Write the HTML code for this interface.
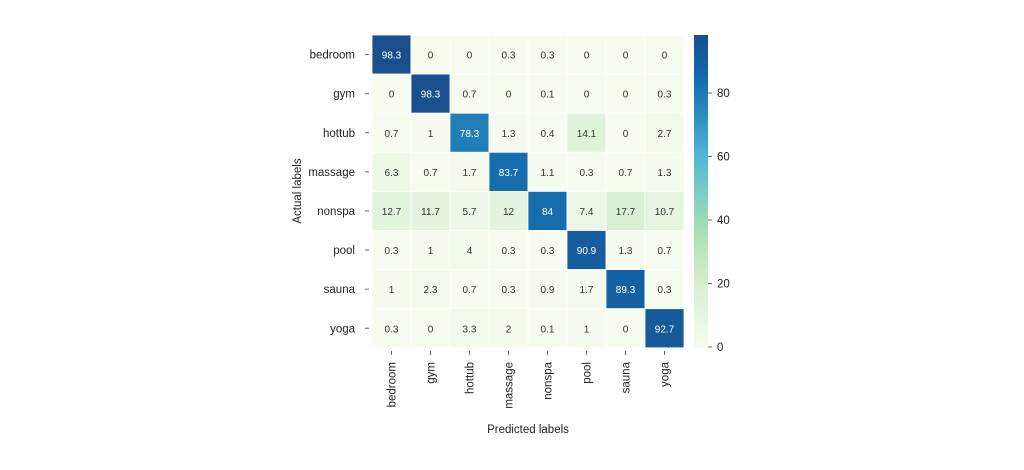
<!DOCTYPE html>
<html><head><meta charset="utf-8"><style>
body{margin:0;background:#fff;width:1024px;height:465px;overflow:hidden;font-family:"Liberation Sans",sans-serif}
</style></head><body>
<svg id="s" width="1024" height="465" xmlns="http://www.w3.org/2000/svg" font-family="Liberation Sans, sans-serif"></svg>
<script>
const labels=["bedroom","gym","hottub","massage","nonspa","pool","sauna","yoga"];
const D=[[98.3,0,0,0.3,0.3,0,0,0],[0,98.3,0.7,0,0.1,0,0,0.3],[0.7,1,78.3,1.3,0.4,14.1,0,2.7],[6.3,0.7,1.7,83.7,1.1,0.3,0.7,1.3],[12.7,11.7,5.7,12,84,7.4,17.7,10.7],[0.3,1,4,0.3,0.3,90.9,1.3,0.7],[1,2.3,0.7,0.3,0.9,1.7,89.3,0.3],[0.3,0,3.3,2,0.1,1,0,92.7]];
const stops=["#f7fcf0","#e4f4de","#ccebc5","#a8ddb5","#7bccc4","#4eb3d3","#2b8cbe","#1167ab","#1a4f8e"];
function hex(h){return [1,3,5].map(i=>parseInt(h.substr(i,2),16))}
function col(v){let t=Math.max(0,Math.min(1,v/98.3))*8;let i=Math.min(7,Math.floor(t)),f=t-i;let a=hex(stops[i]),b=hex(stops[i+1]);return "rgb("+a.map((x,k)=>Math.round(x+(b[k]-x)*f)).join(",")+")"}
let x0=372,y0=35,cw=39,ch=39.1,s="";
for(let r=0;r<8;r++)for(let c=0;c<8;c++){let v=D[r][c];let x=x0+c*cw,y=y0+r*ch;
s+=`<rect x="${x}" y="${y}" width="${cw}" height="${ch}" fill="${col(v)}" stroke="#fff" stroke-width="0.8"/>`;
s+=`<text x="${x+cw/2}" y="${y+ch/2+4}" font-size="10" text-anchor="middle" fill="${v>50?'#fff':'#333'}">${v}</text>`;}
for(let i=0;i<8;i++){let y=y0+i*ch+ch/2;
s+=`<line x1="365" x2="369" y1="${y}" y2="${y}" stroke="#666"/><text x="355" y="${y+4}" font-size="11.5" text-anchor="end" fill="#222">${labels[i]}</text>`;
let x=x0+i*cw+cw/2;
s+=`<line x1="${x}" x2="${x}" y1="351" y2="355" stroke="#666"/><text transform="translate(${x+4},362) rotate(-90)" font-size="11.5" text-anchor="end" fill="#222">${labels[i]}</text>`;}
s+=`<text x="528" y="433" font-size="11.5" text-anchor="middle" fill="#222">Predicted labels</text>`;
s+=`<text transform="translate(301,191) rotate(-90)" font-size="11.5" text-anchor="middle" fill="#222">Actual labels</text>`;
s+=`<defs><linearGradient id="g" x1="0" y1="1" x2="0" y2="0">`+stops.map((c,i)=>`<stop offset="${i/8}" stop-color="${c}"/>`).join("")+`</linearGradient></defs>`;
s+=`<rect x="694" y="35" width="14" height="313" fill="url(#g)"/>`;
for(let v of [0,20,40,60,80]){let y=347-v*3.175;s+=`<line x1="708" x2="712" y1="${y}" y2="${y}" stroke="#666"/><text x="717" y="${y+4}" font-size="11.5" fill="#222">${v}</text>`;}
document.getElementById("s").innerHTML=s;
</script>
</body></html>
